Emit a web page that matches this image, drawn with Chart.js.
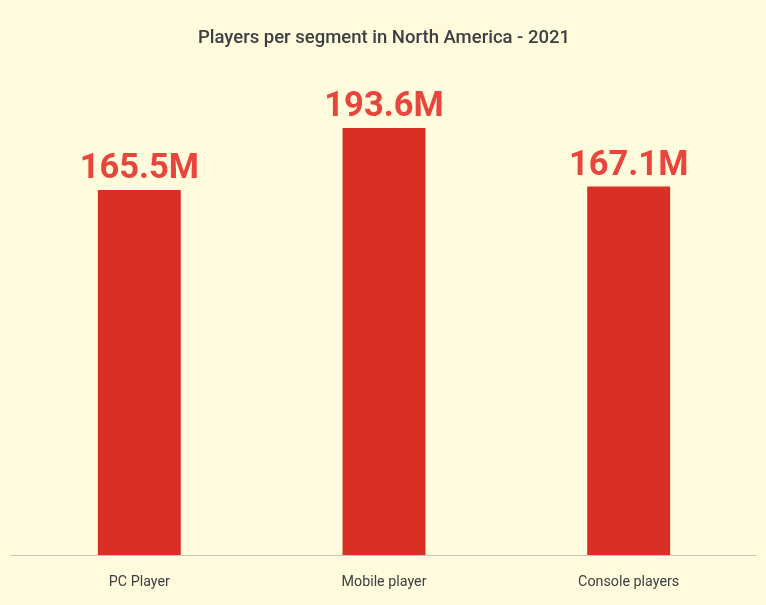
<!DOCTYPE html>
<html>
<head>
<meta charset="utf-8">
<script src="https://cdn.jsdelivr.net/npm/chart.js@4/dist/chart.umd.min.js"></script>
<style>
  html, body { margin: 0; padding: 0; background: #fffbdc; }
  #wrap { width: 766px; height: 605px; }
</style>
</head>
<body>
<div id="wrap"><canvas id="c" width="766" height="605"></canvas></div>
<script>
const categories = ["PC Player", "Mobile player", "Console players"];
const players = [165.5, 193.6, 167.1];
const valueLabels = ["165.5M", "193.6M", "167.1M"];
const chartTitle = "Players per segment in North America - 2021";

const valueLabelPlugin = {
  id: 'valueLabels',
  afterDatasetsDraw(chart) {
    const ctx = chart.ctx;
    const meta = chart.getDatasetMeta(0);
    ctx.save();
    ctx.font = 'bold 34.5px Roboto';
    ctx.fillStyle = '#e8453c';
    ctx.textAlign = 'center';
    ctx.textBaseline = 'alphabetic';
    meta.data.forEach((bar, i) => {
      ctx.fillText(valueLabels[i], bar.x, bar.y - 12);
    });
    ctx.restore();
  }
};

const baselinePlugin = {
  id: 'baseline',
  afterDatasetsDraw(chart) {
    const ctx = chart.ctx;
    const y = Math.round(chart.scales.y.getPixelForValue(0)) + 0.5;
    ctx.save();
    ctx.strokeStyle = '#c4c4c4';
    ctx.lineWidth = 1;
    ctx.beginPath();
    ctx.moveTo(chart.chartArea.left - 7, y);
    ctx.lineTo(chart.chartArea.right + 5, y);
    ctx.stroke();
    ctx.restore();
  }
};

new Chart(document.getElementById('c'), {
  type: 'bar',
  data: {
    labels: categories,
    datasets: [{
      data: players,
      backgroundColor: '#d93025',
      borderWidth: 0,
      barPercentage: 1,
      categoryPercentage: 0.339
    }]
  },
  options: {
    responsive: false,
    animation: false,
    devicePixelRatio: 1,
    layout: { padding: { left: 17, right: 15, top: 0, bottom: 0 } },
    plugins: {
      legend: { display: false },
      tooltip: { enabled: false },
      title: {
        display: true,
        text: chartTitle,
        color: '#3c4043',
        font: { family: 'Roboto', size: 18.5, weight: '500', lineHeight: 1.2 },
        padding: { top: 26.9, bottom: 64.9 }
      }
    },
    scales: {
      x: {
        grid: { display: false, drawTicks: false },
        border: { display: false },
        ticks: { color: '#3c4043', font: { family: 'Roboto', size: 14.3 }, padding: 19 },
        afterFit(scale) { scale.height = 50; }
      },
      y: {
        display: false,
        min: 0,
        max: 200
      }
    }
  },
  plugins: [valueLabelPlugin, baselinePlugin]
});
</script>
</body>
</html>
